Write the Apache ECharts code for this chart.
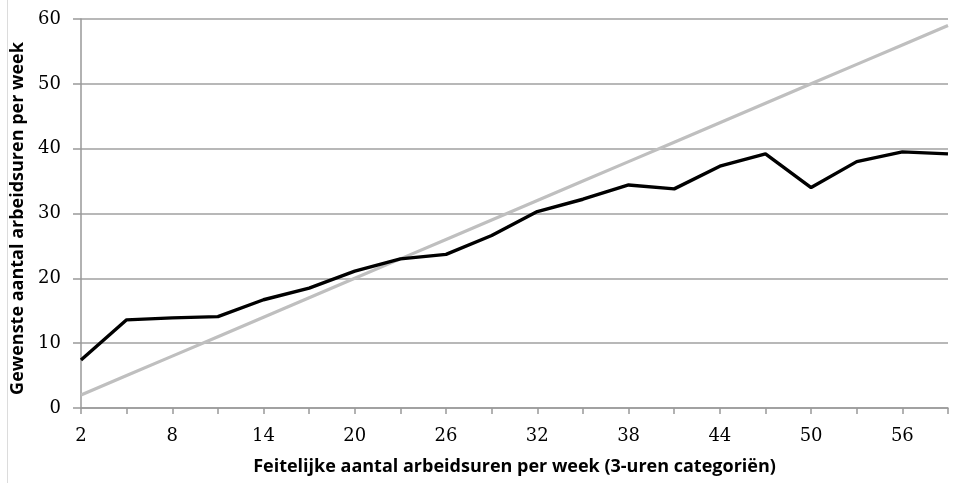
<!DOCTYPE html>
<html>
<head>
<meta charset="utf-8">
<script src="https://cdn.jsdelivr.net/npm/echarts@6/dist/echarts.min.js"></script>
<style>html,body{margin:0;padding:0;background:#fff}#c{width:975px;height:483px}</style>
</head>
<body>
<div id="c"></div>
<script>
var categories = ['2','5','8','11','14','17','20','23','26','29','32','35','38','41','44','47','50','53','56','59'];
var gewenst = [7.4,13.6,13.9,14.1,16.7,18.5,21.1,23.0,23.7,26.6,30.3,32.2,34.4,33.8,37.3,39.2,34.0,38.0,39.5,39.2];
var referentie = [2,5,8,11,14,17,20,23,26,29,32,35,38,41,44,47,50,53,56,59];
var yTicks = [0,10,20,30,40,50,60];

var chart = echarts.init(document.getElementById('c'));
var numFont = 'DejaVu Serif';
var titleFont = 'Open Sans';
chart.setOption({
  animation: false,
  backgroundColor: '#fff',
  graphic: [{
    type: 'line', shape: {x1: 7.5, y1: 0, x2: 7.5, y2: 483},
    style: {stroke: '#dcdcdc', lineWidth: 1}
  }],
  grid: {left: 81, right: 27, top: 19, bottom: 75, containLabel: false},
  xAxis: {
    type: 'category',
    data: categories,
    boundaryGap: false,
    name: 'Feitelijke aantal arbeidsuren per week (3-uren categoriën)',
    nameLocation: 'middle',
    nameGap: 50,
    nameTextStyle: {fontFamily: titleFont, fontWeight: 'bold', fontSize: 18, color: '#000'},
    axisLine: {lineStyle: {color: '#999', width: 1.5}},
    axisTick: {show: true, interval: 0, length: 6, lineStyle: {color: '#999', width: 1.5}},
    axisLabel: {interval: 1, fontFamily: numFont, fontSize: 18, color: '#000', margin: 19},
    splitLine: {show: false}
  },
  yAxis: {
    type: 'value',
    min: yTicks[0],
    max: yTicks[yTicks.length - 1],
    interval: 10,
    name: 'Gewenste aantal arbeidsuren per week',
    nameLocation: 'middle',
    nameGap: 50,
    nameTextStyle: {fontFamily: titleFont, fontWeight: 'bold', fontSize: 18, color: '#000', padding: [0, 10, 0, 0]},
    axisLine: {show: true, lineStyle: {color: '#999', width: 1.5}},
    axisTick: {show: true, length: 8, lineStyle: {color: '#999', width: 1.5}},
    axisLabel: {fontFamily: numFont, fontSize: 18, color: '#000', margin: 20},
    splitLine: {lineStyle: {color: '#a0a0a0', width: 1.5}}
  },
  series: [
    {
      type: 'line', data: referentie, symbol: 'none',
      lineStyle: {color: '#bfbfbf', width: 3.2}, z: 2
    },
    {
      type: 'line', data: gewenst, symbol: 'none',
      lineStyle: {color: '#000', width: 3.4}, z: 3
    }
  ]
});
</script>
</body>
</html>
